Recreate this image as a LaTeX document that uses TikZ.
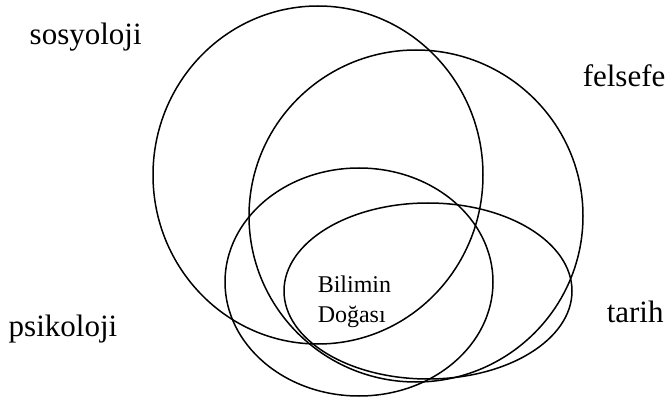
\documentclass[tikz,border=0pt]{standalone}
\usepackage{fontspec}
\setmainfont{Liberation Serif}

\begin{document}
\begin{tikzpicture}[x=1pt, y=1pt, line width=1.5pt,
    field/.style={font=\fontsize{31}{36}\selectfont, inner sep=0pt, anchor=base west},
    core/.style={font=\fontsize{24}{30}\selectfont, inner sep=0pt, anchor=base west,
      text width=100pt, align=left}]
  \useasboundingbox (0,0) rectangle (665,405);

  % centres of the four fields
  \coordinate (S) at (318,230);   % sosyoloji
  \coordinate (F) at (416,189);   % felsefe
  \coordinate (P) at (359,123);   % psikoloji
  \coordinate (T) at (428,114);   % tarih

  % the fields
  \draw (S) ellipse [x radius=165, y radius=169];
  \draw (F) ellipse [x radius=167, y radius=166];
  \draw (P) ellipse [x radius=134, y radius=114];
  \draw (T) ellipse [x radius=144, y radius=88];

  % labels
  \node[field] (soc)  at (29,360)  {sosyoloji};
  \node[field] (phil) at (582,318) {felsefe};
  \node[field] (psy)  at (8,68)    {psikoloji};
  \node[field] (hist) at (606,82)  {tarih};

  % the common core (base = first line here)
  \node[core] (bd) at (317,112) {Bilimin\\Doğası};
\end{tikzpicture}
\end{document}
